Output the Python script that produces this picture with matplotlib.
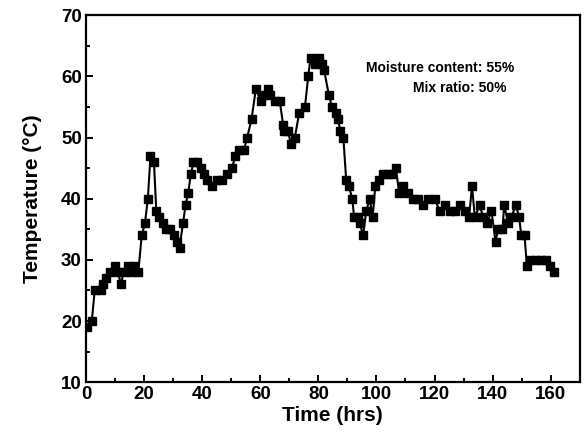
import matplotlib
matplotlib.use("Agg")
import matplotlib.pyplot as plt
from matplotlib.ticker import MultipleLocator

plt.rcParams.update({
    "font.family": ["Liberation Sans", "DejaVu Sans"],
    "font.weight": "bold",
    "axes.linewidth": 1.6,
})

# Time (hrs) and temperature (deg C)
time_hrs = [
    0.4, 2, 3, 5, 6, 7, 8.3, 10, 11, 12, 13, 14.5, 15.5, 16.5, 18,
    19.2, 20.3, 21.3, 22.2, 23.4, 24.2, 25.2, 26.4, 27.5, 28.9, 30.4, 31.4, 32.2,
    33.4, 34.3, 35.2, 36.1, 37, 38.3, 39.5, 40.6, 41.6, 43.3, 45, 47, 48.6,
    50.3, 51.4, 52.7, 54.4, 55.5, 57, 58.5, 60.1, 61, 62.5, 63.5, 65, 66.7,
    67.9, 68.3, 69.6, 70.5, 71.9, 73.4, 75.4, 76.5, 77.3, 78.8, 80.3, 81.2, 82,
    83.6, 84.7, 86, 86.8, 87.6, 88.6, 89.6, 90.5, 91.7, 92.3, 93.7, 94.3, 95.4,
    96.5, 97.7, 98.7, 99.6, 101, 102.3, 104, 105.5, 106.7, 107.8, 109.2, 110.9,
    112.6, 114.3, 116, 117.8, 120, 121.8, 123.5, 125.3, 127, 128.7, 130.4, 131.9,
    132.9, 133.9, 135.6, 136.7, 138.1, 139.6, 141, 141.9, 143.4, 144, 145.3,
    146.5, 148, 149.1, 149.9, 151, 151.8, 153, 154.8, 156.8, 158.5, 159.7, 161,
]
temp_c = [
    19, 20, 25, 25, 26, 27, 28, 29, 28, 26, 28, 29, 28, 29, 28,
    34, 36, 40, 47, 46, 38, 37, 36, 35, 35, 34, 33, 32,
    36, 39, 41, 44, 46, 46, 45, 44, 43, 42, 43, 43, 44,
    45, 47, 48, 48, 50, 53, 58, 56, 57, 58, 57, 56, 56,
    52, 51, 51, 49, 50, 54, 55, 60, 63, 62, 63, 62, 61,
    57, 55, 54, 53, 51, 50, 43, 42, 40, 37, 37, 36, 34,
    38, 40, 37, 42, 43, 44, 44, 44, 45, 41, 42, 41,
    40, 40, 39, 40, 40, 38, 39, 38, 38, 39, 38, 37,
    42, 37, 39, 37, 36, 38, 33, 35, 35, 39, 36,
    37, 39, 37, 34, 34, 29, 30, 30, 30, 30, 29, 28,
]

fig = plt.figure(figsize=(5.85, 4.47), dpi=100)
ax = fig.add_axes([0.147, 0.145, 0.844, 0.821])

ax.plot(time_hrs, temp_c, color="black", linewidth=1.5, marker="s",
        markersize=6, markerfacecolor="black", markeredgecolor="black")

ax.set_xlim(0, 170)
ax.set_ylim(10, 70)
ax.xaxis.set_minor_locator(MultipleLocator(10))
ax.yaxis.set_major_locator(MultipleLocator(10))
ax.yaxis.set_minor_locator(MultipleLocator(5))
ax.set_xticks(range(0, 161, 20))
ax.tick_params(which="both", direction="in", top=False, right=False, width=1.4)
ax.tick_params(which="major", length=5, labelsize=13.5, pad=3)
ax.tick_params(which="minor", length=3)
for lab in ax.get_xticklabels() + ax.get_yticklabels():
    lab.set_fontweight("bold")

ax.set_xlabel("Time (hrs)", fontsize=15, fontweight="bold", labelpad=2)
ax.set_ylabel("Temperature (\u00b0C)", fontsize=15, fontweight="bold", labelpad=14)

ax.text(122, 61.3, "Moisture content: 55%", fontsize=10, fontweight="bold",
        ha="center", va="center")
ax.text(128.7, 58.1, "Mix ratio: 50%", fontsize=10, fontweight="bold",
        ha="center", va="center")

fig.savefig("out.png", dpi=100)
